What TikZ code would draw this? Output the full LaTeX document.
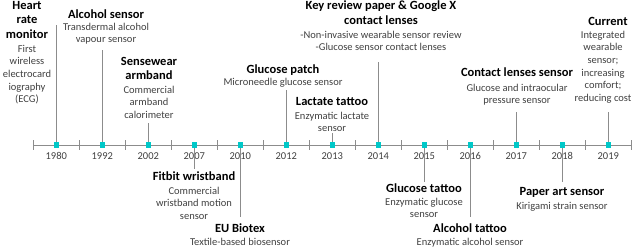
\documentclass[tikz,border=0pt]{standalone}
\usepackage{fontspec}
\setmainfont{Carlito}
\definecolor{stemgray}{HTML}{8C8C8C}
\definecolor{markcyan}{HTML}{00C8C8}
\definecolor{descgray}{HTML}{404040}
\tikzset{
  title/.style={anchor=north, align=center, inner sep=0pt, font=\fontsize{12.5}{14.5}\selectfont\bfseries},
  desc/.style={anchor=north, align=center, inner sep=0pt, text=descgray, font=\fontsize{10.5}{12.7}\selectfont},
  stem/.style={draw=stemgray, line width=0.9pt},
  marker/.style={fill=markcyan, minimum size=5.5pt, inner sep=0pt},
  yearlabel/.style={anchor=base, inner sep=0pt, text=descgray, font=\fontsize{10.5}{12}\selectfont}
}
\begin{document}
\begin{tikzpicture}[x=1pt, y=-1pt]
    \useasboundingbox (0,0) rectangle (637,249);
    % axis with ticks
    \coordinate (axisL) at (33,145);
    \coordinate (axisR) at (632,145);
    \draw[stem] (axisL) -- (axisR);
    \foreach \k in {0,...,13}
        \draw[stem] (33.3+46*\k,140) -- (33.3+46*\k,150);
    % markers and years
    \foreach \yr [count=\i from 0] in {1980,1992,2002,2007,2010,2012,2013,2014,2015,2016,2017,2018,2019} {
        \node[marker] (m\yr) at (56.3+46*\i,145) {};
        \node[yearlabel] (y\yr) at (56.3+46*\i,159.5) {\yr};
    }
    % stems
    \foreach \yr/\yend in {1980/25,1992/50,2002/123,2007/169,2010/217,2012/90,2013/133,2014/62,2015/182,2016/217,2017/112,2018/182,2019/112} {
        \coordinate (s\yr) at (m\yr |- 0,\yend);
        \draw[stem] (m\yr) -- (s\yr);
    }
    % above the axis
    \node[title] (tHeart) at (27,0.8) {Heart\\rate\\monitor};
    \node[desc] (dHeart) at (27,44.6) {First\\wireless\\electrocard\\iography\\(ECG)};
    \node[title] (tAlcohol) at (106,9.8) {Alcohol sensor};
    \node[desc] (dAlcohol) at (106,22.6) {Transdermal alcohol\\vapour sensor};
    \node[title] (tSensewear) at (149,56.8) {Sensewear\\armband};
    \node[desc] (dSensewear) at (149,85.6) {Commercial\\armband\\calorimeter};
    \node[title] (tPatch) at (283,64.8) {Glucose patch};
    \node[desc] (dPatch) at (283,77.6) {Microneedle glucose sensor};
    \node[title] (tLactate) at (332,96.8) {Lactate tattoo};
    \node[desc] (dLactate) at (332,111.6) {Enzymatic lactate\\sensor};
    \node[title] (tReview) at (381,0.8) {Key review paper \& Google X\\contact lenses};
    \node[desc] (dReview) at (381,30.6) {-Non-invasive wearable sensor review\\-Glucose sensor contact lenses};
    \node[title] (tLenses) at (517,67.8) {Contact lenses sensor};
    \node[desc] (dLenses) at (517,83.6) {Glucose and intraocular\\pressure sensor};
    \node[title] (tCurrent) at (608,16.8) {Current};
    \node[desc] (dCurrent) at (603,30.6) {Integrated\\wearable\\sensor;\\increasing\\comfort;\\reducing cost};
    % below the axis
    \node[title] (tFitbit) at (194,171.8) {Fitbit wristband};
    \node[desc] (dFitbit) at (194,186.6) {Commercial\\wristband motion\\sensor};
    \node[title] (tBiotex) at (240,223.8) {EU Biotex};
    \node[desc] (dBiotex) at (240,238.1) {Textile-based biosensor};
    \node[title] (tGlucTat) at (424,183.1) {Glucose tattoo};
    \node[desc] (dGlucTat) at (424,197.6) {Enzymatic glucose\\sensor};
    \node[title] (tAlcTat) at (470,223.8) {Alcohol tattoo};
    \node[desc] (dAlcTat) at (470,237.9) {Enzymatic alcohol sensor};
    \node[title] (tPaper) at (562,187.5) {Paper art sensor};
    \node[desc] (dPaper) at (562,202.3) {Kirigami strain sensor};
\end{tikzpicture}
\end{document}
